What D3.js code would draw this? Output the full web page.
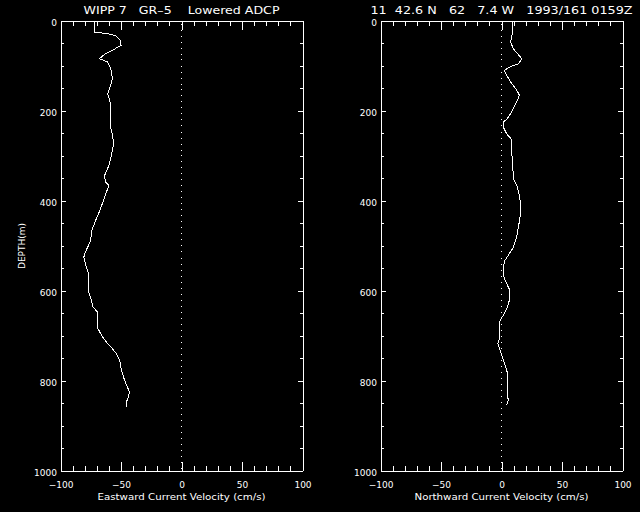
<!DOCTYPE html>
<html>
<head>
<meta charset="utf-8">
<script src="https://cdn.jsdelivr.net/npm/d3@7"></script>
<style>
  html, body { margin: 0; padding: 0; background: #000; }
  svg { display: block; background: #000; }
  text { font-family: "DejaVu Sans", sans-serif; fill: #fff; white-space: pre; }
</style>
</head>
<body>
<svg id="chart" width="640" height="512"></svg>
<script>
// ---- Data ----
const eastDepth = [3, 26, 29, 33, 42, 55, 63, 74, 85, 92, 107, 129, 148, 163, 181, 203, 233, 255, 274, 300,
  322, 344, 359, 366, 381, 411, 433, 444, 470, 489, 518, 526, 548, 566, 581, 600, 622, 637, 648, 685,
  700, 715, 726, 740, 755, 778, 800, 815, 826, 837, 848, 859];
const eastVel = [-72, -72, -62, -55, -51, -50, -55, -63, -68, -61, -58.5, -57, -59, -61, -59, -59, -59, -57, -56, -58,
  -60, -63.5, -63, -60, -62, -66, -69, -71, -74.5, -75, -80, -80.7, -78.7, -76.5, -76.5, -77, -74.5, -73, -69.5, -69,
  -66, -62, -58, -54, -51, -49.6, -47, -44.6, -43, -44, -45.5, -45];

const northDepth = [3, 29, 48, 63, 85, 96, 103, 111, 122, 140, 155, 166, 181, 203, 218, 226, 237, 252, 263, 292,
  322, 352, 366, 389, 411, 426, 446, 481, 504, 518, 533, 548, 570, 585, 600, 622, 641, 655, 666, 689,
  704, 718, 733, 755, 770, 785, 807, 829, 844, 855];
const northVel = [9, 9, 7.6, 9.8, 16.8, 14, 7, 2.4, 4.3, 8.4, 12.6, 14.8, 12.6, 8.4, 4.8, 1.5, 1.5, 4.3, 7.9, 8.4,
  9.3, 9.8, 12.6, 14.8, 15.9, 15.9, 14.8, 12.6, 9.8, 6.5, 2.9, 1.5, 2, 4.3, 7, 6.5, 4.3, 1.5, -1.2, -2,
  -1.2, -3, -1.2, 1.5, 3.5, 5.1, 5.1, 4.8, 5.6, 4.3];

const xMajorTicks = [-100, -50, 0, 50, 100];
const xMinorTicks = d3.range(-100, 101, 10).filter(v => v % 50 !== 0);
const yMajorTicks = [0, 200, 400, 600, 800, 1000];
const yMinorTicks = d3.range(0, 1001, 50).filter(v => v % 200 !== 0);

const titleLeft = "WIPP 7   GR\u20135    Lowered ADCP";
const titleRight = "11  42.6 N   62   7.4 W   1993/161 0159Z";
const xTitleLeft = "Eastward Current Velocity (cm/s)";
const xTitleRight = "Northward Current Velocity (cm/s)";
const yTitle = "DEPTH(m)";

// ---- Drawing ----
const svg = d3.select("#chart");
const plotTop = 20, plotBottom = 470;
const y = d3.scaleLinear().domain([0, 1000]).range([plotTop, plotBottom]);

function fmt(d) { return d < 0 ? "\u2212" + Math.abs(d) : String(d); }

function panel(x0, x1, depth, vel, title, xTitle, titleLen, xTitleLen) {
  const x = d3.scaleLinear().domain([-100, 100]).range([x0, x1]);
  const g = svg.append("g").attr("transform", "translate(0.5,0.5)");

  // zero dotted line
  g.append("line")
    .attr("x1", x(0)).attr("x2", x(0))
    .attr("y1", y(0) + 3).attr("y2", y(1000))
    .attr("stroke", "#fff").attr("stroke-width", 1)
    .attr("stroke-dasharray", "1,5")
    .attr("shape-rendering", "crispEdges");

  const styleAxis = sel => {
    sel.selectAll("path, line").attr("stroke", "#fff").attr("shape-rendering", "crispEdges");
    sel.selectAll("text").attr("fill", "#fff").attr("font-size", 9)
      .attr("font-family", "DejaVu Sans, sans-serif");
  };
  // bottom
  g.append("g").attr("transform", `translate(0,${plotBottom})`)
    .call(d3.axisBottom(x).tickValues(xMajorTicks).tickSizeInner(-9).tickSizeOuter(0).tickPadding(11).tickFormat(fmt))
    .call(styleAxis);
  g.append("g").attr("transform", `translate(0,${plotBottom})`)
    .call(d3.axisBottom(x).tickValues(xMinorTicks).tickSizeInner(-5).tickSizeOuter(0).tickFormat(""))
    .call(styleAxis);
  // top
  g.append("g").attr("transform", `translate(0,${plotTop})`)
    .call(d3.axisTop(x).tickValues(xMajorTicks).tickSizeInner(-9).tickSizeOuter(0).tickFormat(""))
    .call(styleAxis);
  g.append("g").attr("transform", `translate(0,${plotTop})`)
    .call(d3.axisTop(x).tickValues(xMinorTicks).tickSizeInner(-5).tickSizeOuter(0).tickFormat(""))
    .call(styleAxis);
  // left
  const la = g.append("g").attr("transform", `translate(${x0},0)`)
    .call(d3.axisLeft(y).tickValues(yMajorTicks).tickSizeInner(-5).tickSizeOuter(0).tickPadding(3.5).tickFormat(d3.format("d")))
    .call(styleAxis);
  la.selectAll("text").attr("dy", "0.51em");
  g.append("g").attr("transform", `translate(${x0},0)`)
    .call(d3.axisLeft(y).tickValues(yMinorTicks).tickSizeInner(-3).tickSizeOuter(0).tickFormat(""))
    .call(styleAxis);
  // right
  g.append("g").attr("transform", `translate(${x1},0)`)
    .call(d3.axisRight(y).tickValues(yMajorTicks).tickSizeInner(-5).tickSizeOuter(0).tickFormat(""))
    .call(styleAxis);
  g.append("g").attr("transform", `translate(${x1},0)`)
    .call(d3.axisRight(y).tickValues(yMinorTicks).tickSizeInner(-3).tickSizeOuter(0).tickFormat(""))
    .call(styleAxis);

  // profile line
  const pts = depth.map((d, i) => [vel[i], d]);
  const line = d3.line().x(p => x(p[0])).y(p => y(p[1]));
  g.append("path").datum(pts)
    .attr("d", line)
    .attr("fill", "none").attr("stroke", "#fff").attr("stroke-width", 1)
    .attr("shape-rendering", "crispEdges");

  // titles
  svg.append("text")
    .attr("x", (x0 + x1) / 2 + 0.5).attr("y", 14)
    .attr("text-anchor", "middle").attr("font-size", 11)
    .attr("textLength", titleLen).attr("lengthAdjust", "spacingAndGlyphs")
    .text(title);
  svg.append("text")
    .attr("x", (x0 + x1) / 2 + 0.5).attr("y", 500)
    .attr("text-anchor", "middle").attr("font-size", 9)
    .attr("textLength", xTitleLen).attr("lengthAdjust", "spacingAndGlyphs")
    .text(xTitle);
}

panel(60, 302, eastDepth, eastVel, titleLeft, xTitleLeft, 196, 168);
panel(380, 622, northDepth, northVel, titleRight, xTitleRight, 262, 174);

svg.append("text")
  .attr("transform", "translate(25,246) rotate(-90)")
  .attr("text-anchor", "middle").attr("font-size", 9)
  .text(yTitle);
</script>
</body>
</html>
